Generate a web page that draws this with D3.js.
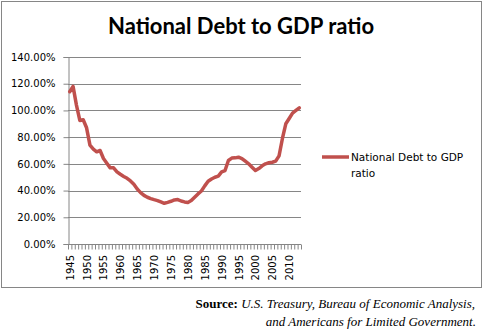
<!DOCTYPE html>
<html><head><meta charset="utf-8">
<script src="https://cdn.jsdelivr.net/npm/d3@7"></script>
<style>
body{margin:0;background:#fff;}
svg{display:block;}
</style></head>
<body>
<svg id="c" width="483" height="335"></svg>
<script>
const years = d3.range(1945, 2014);
const debtRatio = [114, 118, 104, 92.5, 93, 87, 74, 71, 69, 70,
  64, 60.5, 57, 57, 54, 52.2, 50.6, 49.2, 47.2, 44.7,
  41.2, 38.5, 36.4, 35, 34, 33.2, 32.5, 31.5, 30.5, 31.2,
  32, 33, 33.3, 32.2, 31.5, 31.1, 32.5, 35, 37.5, 39.7,
  43.5, 47, 48.7, 50, 50.8, 54, 55, 62.5, 64.3, 64.5,
  65, 64, 62, 60, 57.5, 55, 56.5, 58.5, 60, 60.8,
  61.2, 62, 66, 79, 90, 94, 98, 100, 102];
const yTicks = [0, 20, 40, 60, 80, 100, 120, 140];
const xLabels = [1945, 1950, 1955, 1960, 1965, 1970, 1975, 1980, 1985, 1990, 1995, 2000, 2005, 2010];
const seriesName = "National Debt to GDP ratio";
const title = "National Debt to GDP ratio";

const svg = d3.select("#c");
const L = 68, R = 301, T = 57, B = 244;
const grey = "#868686";

svg.append("rect").attr("x", 1.5).attr("y", 1.5).attr("width", 480).attr("height", 286)
  .attr("fill", "#fff").attr("stroke", grey).attr("stroke-width", 1);

svg.append("text").attr("x", 241).attr("y", 34).attr("text-anchor", "middle")
  .attr("font-family", "Lato, 'Open Sans', sans-serif").attr("font-weight", "bold")
  .attr("font-size", 22).attr("fill", "#000").text(title);

const x = d3.scaleBand().domain(years).range([L, R]).padding(0);
const xEdge = d3.scaleLinear().domain([1944.5, 2013.5]).range([L, R]);
const y = d3.scaleLinear().domain([0, 140]).range([B, T]);

// gridlines
svg.append("g").selectAll("line").data(yTicks.filter(d => d > 0)).join("line")
  .attr("x1", L).attr("x2", R).attr("y1", d => Math.round(y(d)) + 0.5).attr("y2", d => Math.round(y(d)) + 0.5)
  .attr("stroke", grey).attr("stroke-width", 1);

// y axis
const yAxis = svg.append("g").attr("transform", `translate(${L + 0.5},0)`)
  .call(d3.axisLeft(y).tickValues(yTicks).tickSize(5).tickPadding(8).tickFormat(d => d.toFixed(2) + "%"));
yAxis.selectAll("path,line").attr("stroke", grey);
yAxis.selectAll("text").attr("font-family", "'DejaVu Sans', sans-serif").attr("font-size", 10).attr("fill", "#000");

// x axis ticks
const xAxis = svg.append("g").attr("transform", `translate(0,${B + 0.5})`)
  .call(d3.axisBottom(xEdge).tickValues(d3.range(1944.5, 2014, 1)).tickSize(5).tickFormat(""));
xAxis.selectAll("path,line").attr("stroke", grey);
xAxis.select("path").attr("d", `M${L},0H${R}`);

svg.append("g").selectAll("text").data(xLabels).join("text")
  .attr("transform", d => `translate(${x(d) + x.bandwidth() / 2 + 0.5},255) rotate(-90)`)
  .attr("text-anchor", "end").attr("dy", "0.35em")
  .attr("font-family", "'DejaVu Sans', sans-serif").attr("font-size", 10).attr("fill", "#000")
  .text(d => d);

// line
const line = d3.line().x((d, i) => x(years[i]) + x.bandwidth() / 2).y(d => y(d));
svg.append("path").datum(debtRatio).attr("d", line).attr("fill", "none")
  .attr("stroke", "#C0504D").attr("stroke-width", 3.5).attr("stroke-linejoin", "round").attr("stroke-linecap", "round");

// legend
svg.append("line").attr("x1", 322).attr("x2", 349).attr("y1", 157).attr("y2", 157)
  .attr("stroke", "#C0504D").attr("stroke-width", 3.5);
const lt = svg.append("text").attr("font-family", "'DejaVu Sans', sans-serif").attr("font-size", 10.5).attr("fill", "#000");
lt.append("tspan").attr("x", 351).attr("y", 161).text(seriesName.replace(" ratio", ""));
lt.append("tspan").attr("x", 351).attr("y", 177).text("ratio");

// source
const s1 = svg.append("text").attr("x", 475).attr("y", 308).attr("text-anchor", "end")
  .attr("font-family", "'Liberation Serif', serif").attr("font-size", 13).attr("fill", "#000");
s1.append("tspan").attr("font-weight", "bold").text("Source:");
s1.append("tspan").attr("font-style", "italic").text("  U.S. Treasury, Bureau of Economic Analysis,");
svg.append("text").attr("x", 476).attr("y", 326).attr("text-anchor", "end")
  .attr("font-family", "'Liberation Serif', serif").attr("font-size", 13).attr("font-style", "italic").attr("fill", "#000")
  .text("and Americans for Limited Government.");
</script>
</body></html>
